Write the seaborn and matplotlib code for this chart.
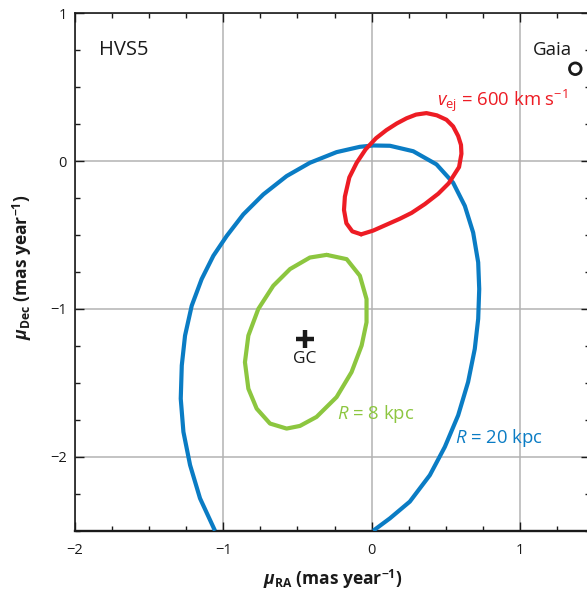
import matplotlib
matplotlib.use("Agg")
import matplotlib.pyplot as plt
import seaborn as sns
from matplotlib.ticker import MultipleLocator

# ---- data ----
blue_ra = [-1.056, -1.157, -1.224, -1.269, -1.287, -1.280, -1.258, -1.213, -1.146, -1.067,
           -0.977, -0.865, -0.730, -0.573, -0.416, -0.236, -0.079, 0.011, 0.124, 0.281,
           0.438, 0.550, 0.629, 0.685, 0.719, 0.726, 0.719, 0.696, 0.651, 0.584,
           0.494, 0.393, 0.258, 0.124, 0.011]
blue_dec = [-2.5, -2.281, -2.056, -1.831, -1.607, -1.382, -1.180, -0.978, -0.798, -0.640,
            -0.506, -0.360, -0.225, -0.101, -0.011, 0.061, 0.097, 0.106, 0.104, 0.067,
            -0.022, -0.146, -0.303, -0.483, -0.685, -0.865, -1.067, -1.270, -1.494, -1.719,
            -1.933, -2.124, -2.303, -2.416, -2.5]

green_ra = [-0.303, -0.168, -0.079, -0.034, -0.034, -0.067, -0.135, -0.236, -0.371, -0.483,
            -0.573, -0.685, -0.775, -0.831, -0.854, -0.831, -0.764, -0.663, -0.550, -0.416,
            -0.303]
green_dec = [-0.634, -0.663, -0.775, -0.933, -1.090, -1.247, -1.427, -1.596, -1.730, -1.791,
             -1.809, -1.775, -1.674, -1.539, -1.360, -1.180, -1.000, -0.843, -0.730, -0.652,
             -0.634]

red_ra = [-0.07, -0.13, -0.17, -0.186, -0.18, -0.15, -0.10, -0.04, 0.03, 0.10,
          0.17, 0.236, 0.30, 0.37, 0.44, 0.505, 0.55, 0.584, 0.603, 0.606,
          0.59, 0.52, 0.45, 0.36, 0.27, 0.19, 0.10, 0.01, -0.07]
red_dec = [-0.495, -0.475, -0.42, -0.33, -0.24, -0.11, -0.01, 0.08, 0.155, 0.21,
           0.255, 0.29, 0.315, 0.325, 0.31, 0.28, 0.235, 0.17, 0.11, 0.05,
           -0.04, -0.15, -0.22, -0.29, -0.35, -0.39, -0.43, -0.47, -0.495]

gc_ra, gc_dec = [-0.449], [-1.202]
gaia_ra, gaia_dec = [1.374], [0.625]

xticks = [-2, -1, 0, 1]
yticks = [-2, -1, 0, 1]

BLUE = "#0a7cc4"
GREEN = "#8cc63f"
RED = "#ed1c24"
INK = "#1a1a1a"

sns.set_theme(style="white")
plt.rcParams["font.family"] = ["Open Sans", "DejaVu Sans"]
plt.rcParams["mathtext.fontset"] = "custom"
plt.rcParams["mathtext.rm"] = "Open Sans"
plt.rcParams["mathtext.it"] = "Open Sans:italic"
plt.rcParams["mathtext.bf"] = "Open Sans:bold"
plt.rcParams["mathtext.bfit"] = "Open Sans:bold:italic"

fig = plt.figure(figsize=(5.87, 5.92), dpi=100)
ax = fig.add_axes([0.1278, 0.1035, 0.8773, 0.874])

ax.set_xlim(-2, 1.473)
ax.set_ylim(-2.5, 1)

ax.set_xticks(xticks)
ax.set_yticks(yticks)
ax.xaxis.set_minor_locator(MultipleLocator(0.25))
ax.yaxis.set_minor_locator(MultipleLocator(0.25))
ax.grid(True, which="major", color="#b3b3b3", lw=1.1, zorder=0)
ax.set_axisbelow(True)

for s in ax.spines.values():
    s.set_color(INK)
    s.set_linewidth(1.2)
ax.spines["bottom"].set_linewidth(1.7)

ax.tick_params(which="both", direction="in", top=True, right=True, bottom=True, left=True,
               color=INK, width=1.0)
ax.tick_params(which="major", length=6.5, labelsize=10.5, labelcolor=INK)
ax.tick_params(which="minor", length=3.6)
ax.tick_params(axis="x", which="major", pad=9)
ax.tick_params(axis="y", which="major", pad=6)

lw = 3.0
sns.lineplot(x=blue_ra, y=blue_dec, sort=False, estimator=None, color=BLUE, lw=lw,
             ax=ax, solid_capstyle="butt", solid_joinstyle="round", zorder=3)
sns.lineplot(x=green_ra, y=green_dec, sort=False, estimator=None, color=GREEN, lw=lw,
             ax=ax, solid_joinstyle="round", zorder=3)
sns.lineplot(x=red_ra, y=red_dec, sort=False, estimator=None, color=RED, lw=lw,
             ax=ax, solid_joinstyle="round", zorder=4)

sns.scatterplot(x=gc_ra, y=gc_dec, marker="+", s=170, color=INK, linewidth=3.2,
                ax=ax, zorder=5)
sns.scatterplot(x=gaia_ra, y=gaia_dec, marker="o", s=70, facecolor="none",
                edgecolor=INK, linewidth=2.0, ax=ax, zorder=5, clip_on=False)

ax.text(-1.84, 0.75, "HVS5", fontsize=14.5, color=INK, ha="left", va="center")
ax.text(1.35, 0.75, "Gaia", fontsize=13.5, color=INK, ha="right", va="center")
ax.text(-0.449, -1.337, "GC", fontsize=12.5, color=INK, ha="center", va="center")
ax.text(0.44, 0.41, r"$v_{\mathrm{ej}}$ = 600 km s$^{-1}$", fontsize=13.3, color=RED,
        ha="left", va="center")
ax.text(-0.23, -1.71, r"$R$ = 8 kpc", fontsize=13.3, color=GREEN, ha="left", va="center")
ax.text(0.56, -1.87, r"$R$ = 20 kpc", fontsize=13.3, color=BLUE, ha="left", va="center")

ax.set_xlabel(r"$\mathbfit{\mu}_{\mathbf{RA}}$ (mas year$^{\mathbf{-1}}$)",
              fontsize=12.5, fontweight="bold", color=INK)
ax.set_ylabel(r"$\mathbfit{\mu}_{\mathbf{Dec}}$ (mas year$^{\mathbf{-1}}$)",
              fontsize=12.5, fontweight="bold", color=INK)
ax.xaxis.set_label_coords(0.5, -0.071)
ax.yaxis.set_label_coords(-0.08, 0.51)

fig.savefig("out.png", dpi=100)
